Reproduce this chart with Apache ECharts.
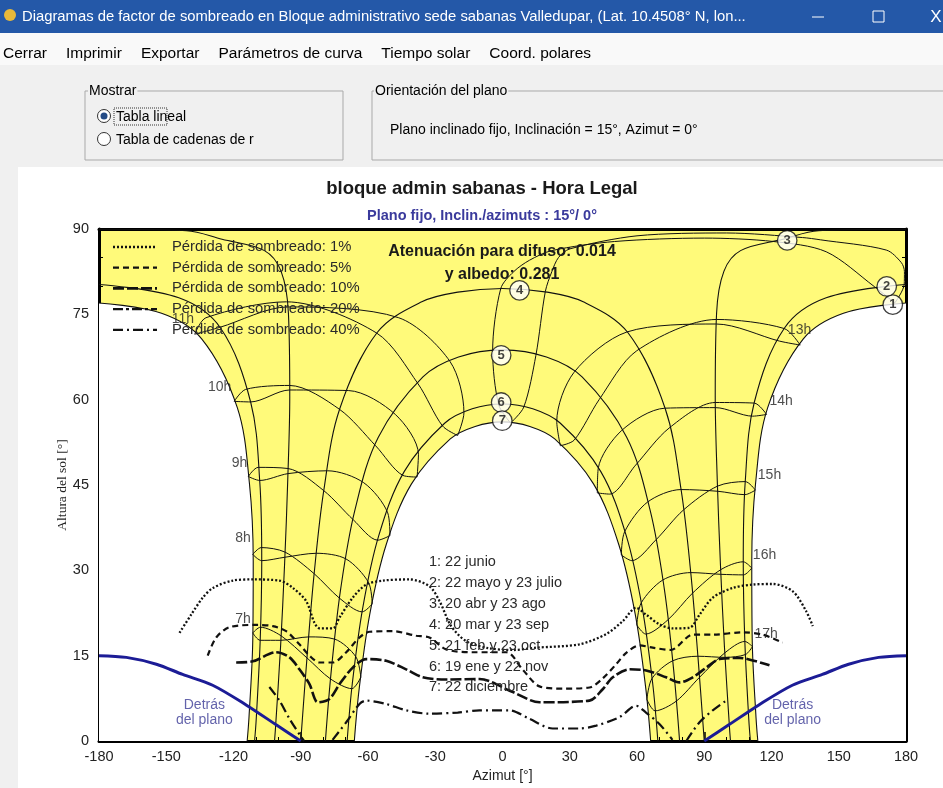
<!DOCTYPE html>
<html><head><meta charset="utf-8">
<script src="https://cdn.jsdelivr.net/npm/echarts/dist/echarts.min.js"></script>
<style>html,body{margin:0;padding:0;background:#f0f0f0;}#c{width:943px;height:788px;}</style>
</head><body><div id="c"></div>
<script>
// ---------- DATA (azimut [°], altura [°]) ----------
const xTickStep = 30, yTickStep = 15;
const curve1L = [[-180,77.0],[-152.1,75.2],[-134.2,70.7],[-118.3,58.6],[-112.9,45.3],[-111.2,31.6],[-111.4,17.8],[-113.1,4.1],[-113.9,0]];
const curve1R = [[113.9,0],[113.1,4.1],[111.4,17.8],[111.2,31.6],[112.9,45.3],[118.3,58.6],[134.2,70.7],[152.1,75.2],[180,77.0]];
const curve2L = [[-180,80.25],[-144.4,77.9],[-125.8,72.6],[-112.3,59.5],[-108.3,45.7],[-107.4,31.6],[-108.1,17.6],[-109.9,3.6],[-110.6,0]];
const curve2R = [[110.6,0],[109.9,3.6],[108.1,17.6],[107.4,31.6],[108.3,45.7],[112.3,59.5],[125.8,72.6],[144.4,77.9],[180,80.25]];
const curve3L = [[-180,89.95],[-141,89.7],[-125.1,88.2],[-106.2,86.2],[-98.8,82.6],[-95.5,75.2],[-94.9,60.6],[-95.8,45.9],[-97.2,31.2],[-99.0,16.6],[-101.3,2.1],[-101.7,0]];
const curve3R = [[101.7,0],[101.3,2.1],[99.0,16.6],[97.2,31.2],[95.8,45.9],[94.9,60.6],[95.5,75.2],[98.8,82.6],[106.2,86.2],[125.1,88.2],[141,89.7],[180,89.95]];
const curve4 = [[-90,0],[-87.2,14.75],[-84.0,29.5],[-79.7,44.1],[-72.6,58.4],[-55.9,71.8],[-36.0,77.2],[-19.9,78.9],[0,79.55],[19.9,78.9],[36.0,77.2],[55.9,71.8],[72.6,58.4],[79.7,44.1],[84.0,29.5],[87.2,14.75],[90,0]];
const curve5 = [[-79.0,0],[-76.35,12.5],[-72.2,26.7],[-65.9,40.5],[-55.4,53.4],[-35.5,64.0],[-19.6,67.5],[0,68.75],[19.6,67.5],[35.5,64.0],[55.4,53.4],[65.9,40.5],[72.2,26.7],[76.35,12.5],[79.0,0]];
const curve6 = [[-69.3,0],[-67.0,10.1],[-62.3,23.5],[-55.2,36.1],[-43.8,47.4],[-25.7,55.9],[-13.5,58.4],[0,59.25],[13.5,58.4],[25.7,55.9],[43.8,47.4],[55.2,36.1],[62.3,23.5],[67.0,10.1],[69.3,0]];
const curve7 = [[-66.1,0],[-63.9,9.3],[-59.2,22.3],[-51.9,34.5],[-40.6,45.2],[-23.3,53.1],[-12.2,55.3],[0,56.1],[12.2,55.3],[23.3,53.1],[40.6,45.2],[51.9,34.5],[59.2,22.3],[63.9,9.3],[66.1,0]];

const hourA = [
 [[-63.2,11.2],[-67.2,9.2],[-76.7,10.9],[-87.2,14.6],[-98.8,18.5],[-108.0,20.0],[-111.4,19.0]],
 [[-58.1,24.1],[-62.6,22.7],[-72.7,25.1],[-84.0,29.4],[-97.0,33.2],[-107.6,34.0],[-111.4,32.8]],
 [[-50.2,36.1],[-55.6,35.3],[-66.6,38.9],[-79.7,44.0],[-95.7,47.9],[-109.0,48.1],[-113.4,46.5]],
 [[-38.1,46.4],[-44.5,46.7],[-56.6,51.9],[-72.7,58.3],[-95.0,62.5],[-114.6,61.8],[-119.7,59.7]],
 [[-20.0,53.7],[-26.8,55.4],[-37.7,62.8],[-56.1,71.7],[-96.4,77.2],[-132.3,74.4],[-137.3,71.5]],
 [[3.6,55.9],[-1.7,59.1],[-4.4,68.5],[-0.8,79.5],[5,82.5],[12,84.5],[22,86.2],[50,87.8],[90,88.4],[120.9,87.8],[144.4,86.0],[165.8,79.9],[175.0,77.0]],
 [[25.8,51.9],[24.2,56.2],[31.9,64.8],[55.5,71.9],[95.4,73.3],[123.5,70.3],[132.8,69.6]],
 [[42.3,43.6],[42.7,47.9],[53.2,54.6],[72.4,58.5],[95.0,58.6],[111.6,57.1],[117.8,57.4]],
 [[53.0,32.7],[54.5,36.8],[64.7,42.0],[79.6,44.2],[96.0,43.9],[108.1,43.3],[112.8,44.1]],
 [[59.9,20.4],[61.9,24.3],[71.5,28.3],[84.0,29.6],[97.4,29.3],[107.5,29.2],[111.2,30.4]],
 [[64.4,7.3],[66.7,11.0],[75.9,14.1],[87.2,14.9],[99.3,14.7],[108.4,15.2],[111.5,16.6]]
];
const hourB = [
 [[-111.4,19.0],[-108.1,17.7],[-98.9,17.7],[-86.4,18.3],[-74.8,17.9],[-65.4,14.8],[-63.2,11.2]],
 [[-111.4,32.8],[-107.4,31.7],[-97.1,32.3],[-83.0,33.0],[-69.8,32.0],[-59.8,27.9],[-58.1,24.1]],
 [[-113.4,46.5],[-108.3,45.8],[-95.7,47.0],[-78.0,47.5],[-61.9,45.4],[-51.2,40.1],[-50.2,36.1]],
 [[-119.7,59.7],[-112.4,59.6],[-95.0,61.7],[-68.6,61.6],[-47.8,57.4],[-37.5,50.4],[-38.1,46.4]],
 [[-137.3,71.5],[-126.2,72.7],[-95.9,76.3],[-46.3,74.4],[-23.4,66.7],[-17.2,57.7],[-20.0,53.7]],
 [[175.0,77.0],[179.2,80.25],[179.3,82.5],[177.9,84.1],[171.2,86.3],[141.8,88.1],[133.8,88.5],[100,89.3],[60,88.8],[30,86.5],[25,85],[22,82.5],[19.1,79.0],[14.9,67.8],[9.5,58.7],[3.6,55.9]],
 [[132.8,69.6],[125.7,72.5],[95.5,74.1],[59.9,68.6],[43.1,60.0],[32.0,52.9],[25.8,51.9]],
 [[117.8,57.4],[112.3,59.4],[94.9,59.5],[74.3,55.0],[59.4,48.5],[47.8,43.4],[42.3,43.6]],
 [[112.8,44.1],[108.3,45.6],[95.9,44.8],[80.7,40.6],[68.3,35.3],[57.7,31.7],[53.0,32.7]],
 [[111.2,30.4],[107.4,31.5],[97.3,30.1],[84.8,26.0],[73.8,21.3],[63.9,18.8],[59.9,20.4]],
 [[111.5,16.6],[108.1,17.5],[99.2,15.5],[87.9,11.2],[77.5,7.0],[68.1,5.3],[64.4,7.3]]
];
const hourLabels = [['7h',-115.8,21.4],['8h',-115.8,35.6],['9h',-117.3,48.9],['10h',-126.2,62.2],['11h',-142.6,74.1],['13h',132.5,72.2],['14h',124.3,59.8],['15h',119.1,46.7],['16h',116.9,32.7],['17h',117.6,18.8]];
const dateMarks = [[174.1,76.7,'1'],[171.4,79.9,'2'],[127,88.0,'3'],[7.6,79.2,'4'],[-0.6,67.8,'5'],[-0.6,59.5,'6'],[-0.1,56.3,'7']];
const dateNames = ['1: 22 junio','2: 22 mayo y 23 julio','3: 20 abr y 23 ago','4: 20 mar y 23 sep','5: 21 feb y 23 oct','6: 19 ene y 22 nov','7: 22 diciembre'];

const loss1 = [[-144.1,19.0],[-138.9,22.2],[-133.7,25.2],[-129.2,26.9],[-120.3,28.2],[-111.4,28.4],[-99.5,28.2],[-93.5,26.9],[-87.6,24.6],[-83.9,20.8],[-81.6,19.8],[-75.7,19.8],[-72.7,21.7],[-66.8,25.2],[-60.8,27.5],[-53.4,28.2],[-41.5,28.4],[-32.6,27.2],[-28.1,24.6],[-22.9,20.2],[-16,17.5],[-6,16.3],[5,16.0],[15,16.4],[34.3,17.0],[46.3,18.8],[53.7,21.1],[59.6,23.4],[64.1,22.2],[70,20.5],[76,19.8],[83.4,19.9],[87.9,22.2],[93.8,25.2],[102.7,26.9],[111.7,27.5],[120.6,27.6],[129.5,26.3],[135.5,22.8],[138.4,20.2]];
const loss5 = [[-131.5,15.0],[-127.7,18.2],[-121.8,20.0],[-110,20.4],[-102.5,20.2],[-96.5,19.3],[-90.6,17.0],[-86.1,15.0],[-81.6,13.8],[-75.7,13.8],[-69.7,15.6],[-63.8,18.2],[-59.3,19.2],[-48.9,19.3],[-38.5,18.5],[-32.6,18.2],[-25.1,16.1],[-13.2,15.6],[1.7,15.6],[9.1,12.5],[16.5,9.6],[26.9,9.2],[38.8,9.4],[44.7,11],[50.7,13.5],[55.2,15.5],[61.1,16.8],[67,16.4],[75,16],[85,18.7],[94,18.7],[107,19.1],[116,18.7],[125,17.3]];
const loss10 = [[-118.8,13.8],[-111.4,14.0],[-101,15.6],[-95,14.7],[-90.6,12.6],[-86.1,10.0],[-82.4,6.8],[-77.2,7.4],[-72.7,10.0],[-66.8,12.9],[-60.8,14.4],[-51.9,14.1],[-43,12.6],[-35.6,11.2],[-25,10.8],[-10.3,10.9],[4.6,8.6],[16.5,6.8],[38.8,7.1],[44.7,9.1],[49.2,11.2],[56.7,12.6],[64.1,12.4],[73,11.2],[79,10.3],[84.9,11.2],[90.9,12.9],[96.8,14.4],[105.7,14.6],[113.2,14.0],[119.1,13.3]];
const loss40a = [[-104,9.5],[-99.5,7.1],[-95,3.9],[-89.8,0.7],[-88.5,0]];
const loss40b = [[-75.8,0.2],[-69.7,3.3],[-63.8,6.5],[-60.8,7.1],[-51.9,6.5],[-43,5.4],[-32.6,4.8],[-20,5.0],[-10.3,5.4],[3.1,5.4],[12,3.9],[22.4,2.2],[34.3,2.2],[41.8,2.7],[52.2,4.2],[59.6,6.2],[64,5.0],[70,3.0],[75.8,0.2]];
const loss40c = [[82,0],[87.9,3.3],[93.8,5.4],[99.8,7.1]];
const behindL = [[-180,15.0],[-167.8,14.7],[-154.4,13.5],[-142.7,11.7],[-129.3,9.8],[-114.2,6.3],[-100.8,2.8],[-90,0]];
const behindR = [[90,0],[100.8,2.8],[114.2,6.3],[129.3,9.8],[142.7,11.7],[154.4,13.5],[167.8,14.7],[180,15.0]];
const behindLabels = [[-133,4.9,'Detrás\ndel plano'],[129.4,4.9,'Detrás\ndel plano']];
const lossNames = ['Pérdida de sombreado: 1%','Pérdida de sombreado: 5%','Pérdida de sombreado: 10%','Pérdida de sombreado: 20%','Pérdida de sombreado: 40%'];

// ---------- STYLE ----------
const F = 'Arial, "Liberation Sans", sans-serif';
const UI = '"Liberation Sans", Arial, sans-serif';
const lossDash = [[2,2],[6,4],[11,3],[10,3,3,3],[10,4,2,4]];
const lossWidth = [2.3,2.2,2.6,2.2,2.2];

function ln(data, ls, extra) {
  return Object.assign({type:'line', data, smooth:0.35, symbol:'none', silent:true,
    lineStyle:Object.assign({color:'#111', width:1}, ls)}, extra || {});
}
const series = [];
series.push(ln(curve1L, {width:1.1}, {areaStyle:{color:'#ffffff', opacity:1}, z:2}));
series.push(ln(curve1R, {width:1.1}, {areaStyle:{color:'#ffffff', opacity:1}, z:2}));
series.push(ln(curve7, {width:1.1}, {areaStyle:{color:'#ffffff', opacity:1}, z:2}));
[curve2L, curve2R, curve3L, curve3R, curve4, curve5, curve6].forEach(c => series.push(ln(c, {width:1.1}, {z:3})));
hourA.forEach(h => series.push(ln(h, {width:1}, {z:3, smooth:0.3})));
hourB.forEach(h => series.push(ln(h, {width:1}, {z:3, smooth:0.3})));
series.push(ln(loss1, {type:lossDash[0], width:lossWidth[0]}, {z:4, smooth:0.3}));
series.push(ln(loss5, {type:lossDash[1], width:lossWidth[1]}, {z:4, smooth:0.3}));
series.push(ln(loss10, {type:lossDash[2], width:lossWidth[2]}, {z:4, smooth:0.3}));
[loss40a, loss40b, loss40c].forEach(d => series.push(ln(d, {type:lossDash[4], width:lossWidth[4]}, {z:4, smooth:0.3})));
series.push(ln(behindL, {color:'#1c1c96', width:3}, {z:5, smooth:0.3}));
series.push(ln(behindR, {color:'#1c1c96', width:3}, {z:5, smooth:0.3}));
series.push({type:'scatter', data:hourLabels.map(d => [d[1], d[2], d[0]]), symbolSize:1, silent:true, z:6,
  itemStyle:{color:'rgba(0,0,0,0)'},
  label:{show:true, position:'inside', formatter:p => p.value[2], color:'#222', fontSize:14, fontFamily:F}});
series.push({type:'scatter', data:behindLabels, symbolSize:1, silent:true, z:6,
  itemStyle:{color:'rgba(0,0,0,0)'},
  label:{show:true, position:'inside', formatter:p => p.value[2], color:'#3c3c96', fontSize:14, lineHeight:15, fontFamily:F, align:'center'}});
series.push({type:'scatter', data:dateMarks, symbol:'circle', symbolSize:19.5, silent:true, z:8, clip:false,
  itemStyle:{color:'#ffffff', borderColor:'#111', borderWidth:1.3},
  label:{show:true, position:'inside', formatter:p => p.value[2], color:'#111', fontSize:13, fontWeight:'bold', fontFamily:F}});

// ---------- GRAPHICS (window chrome, titles, legends) ----------
const G = [];
G.push({type:'rect', shape:{x:18, y:167, width:925, height:621}, style:{fill:'#ffffff'}, z:-10});
G.push({type:'rect', shape:{x:0, y:0, width:943, height:33}, style:{fill:'#2458a8'}, z:50});
G.push({type:'circle', shape:{cx:10, cy:15, r:6}, style:{fill:'#e8b93a'}, z:51});
G.push({type:'text', x:22, y:17, style:{text:'Diagramas de factor de sombreado en Bloque administrativo sede sabanas Valledupar, (Lat. 10.4508° N, lon...', fill:'#ffffff', font:'14.8px ' + UI, verticalAlign:'middle'}, z:51});
G.push({type:'line', shape:{x1:812, y1:17, x2:824, y2:17}, style:{stroke:'#ffffff', lineWidth:1}, z:51});
G.push({type:'rect', shape:{x:873, y:11, width:11, height:11}, style:{fill:'none', stroke:'#ffffff', lineWidth:1}, z:51});
G.push({type:'text', x:936, y:17, style:{text:'X', fill:'#ffffff', font:'17px ' + UI, align:'center', verticalAlign:'middle'}, z:51});
G.push({type:'rect', shape:{x:0, y:33, width:943, height:32}, style:{fill:'#f9f9f9'}, z:-9});
const menu = ['Cerrar','Imprimir','Exportar','Parámetros de curva','Tiempo solar','Coord. polares'];
(function(){
  const cv = document.createElement('canvas').getContext('2d');
  cv.font = '15.5px ' + UI;
  let x = 3;
  menu.forEach(m => {
    G.push({type:'text', x:x, y:54, style:{text:m, fill:'#000', font:'15.5px ' + UI, verticalAlign:'middle'}, z:51});
    x += cv.measureText(m).width + 19;
  });
})();
G.push({type:'rect', shape:{x:85, y:91, width:258, height:69}, style:{fill:'none', stroke:'#a9a9a9', lineWidth:1}, z:40});
G.push({type:'text', x:88, y:91, style:{text:'Mostrar', fill:'#000', font:'14px ' + UI, verticalAlign:'middle', backgroundColor:'#f0f0f0', padding:[0,1]}, z:41});
G.push({type:'circle', shape:{cx:104, cy:116, r:6.5}, style:{fill:'#fff', stroke:'#333', lineWidth:1}, z:41});
G.push({type:'circle', shape:{cx:104, cy:116, r:3.5}, style:{fill:'#234b86'}, z:42});
G.push({type:'rect', shape:{x:114, y:108, width:53, height:17}, style:{fill:'none', stroke:'#333', lineWidth:1, lineDash:[1,1]}, z:41});
G.push({type:'text', x:116, y:117, style:{text:'Tabla lineal', fill:'#000', font:'14px ' + UI, verticalAlign:'middle'}, z:41});
G.push({type:'circle', shape:{cx:104, cy:139, r:6.5}, style:{fill:'#fff', stroke:'#333', lineWidth:1}, z:41});
G.push({type:'text', x:116, y:140, style:{text:'Tabla de cadenas de r', fill:'#000', font:'14px ' + UI, verticalAlign:'middle'}, z:41});
G.push({type:'rect', shape:{x:372, y:91, width:600, height:69}, style:{fill:'none', stroke:'#a9a9a9', lineWidth:1}, z:40});
G.push({type:'text', x:374, y:91, style:{text:'Orientación del plano', fill:'#000', font:'14px ' + UI, verticalAlign:'middle', backgroundColor:'#f0f0f0', padding:[0,1]}, z:41});
G.push({type:'text', x:390, y:130, style:{text:'Plano inclinado fijo, Inclinación = 15°, Azimut = 0°', fill:'#000', font:'14px ' + UI, verticalAlign:'middle'}, z:41});
G.push({type:'text', x:482, y:189, style:{text:'bloque admin sabanas - Hora Legal', fill:'#1a1a1a', font:'bold 18.5px ' + F, align:'center', verticalAlign:'middle'}, z:60});
G.push({type:'text', x:482, y:216, style:{text:'Plano fijo, Inclin./azimuts : 15°/ 0°', fill:'#3a3a9c', font:'bold 14.5px ' + F, align:'center', verticalAlign:'middle'}, z:60});
G.push({type:'text', x:502, y:252, style:{text:'Atenuación para difuso: 0.014', fill:'#1a1a1a', font:'bold 16px ' + F, align:'center', verticalAlign:'middle'}, z:60});
G.push({type:'text', x:502, y:275, style:{text:'y albedo: 0.281', fill:'#1a1a1a', font:'bold 16px ' + F, align:'center', verticalAlign:'middle'}, z:60});
lossNames.forEach((t, i) => {
  const y = 247 + i * 20.7;
  G.push({type:'line', shape:{x1:113, y1:y, x2:157, y2:y}, style:{stroke:'#111', lineWidth:lossWidth[i], lineDash:lossDash[i]}, z:60});
  G.push({type:'text', x:172, y:y, style:{text:t, fill:'#2a2a2a', font:'14.8px ' + F, verticalAlign:'middle'}, z:60});
});
dateNames.forEach((t, i) => {
  G.push({type:'text', x:429, y:562 + i * 20.9, style:{text:t, fill:'#2a2a2a', font:'14.5px ' + F, verticalAlign:'middle'}, z:60});
});

const axisCommon = {type:'value', splitLine:{show:false}, axisLine:{show:true, onZero:false, lineStyle:{color:'#000', width:3}}};
const option = {
  animation:false,
  backgroundColor:'#f0f0f0',
  grid:{left:99, right:37, top:229, bottom:44, show:true, backgroundColor:'#fffa7a', borderWidth:0},
  xAxis:[
    Object.assign({}, axisCommon, {min:-180, max:180, interval:xTickStep, position:'bottom',
      axisTick:{show:true, inside:true, length:9, lineStyle:{color:'#000', width:1.5}},
      minorTick:{show:true, splitNumber:3, length:4, lineStyle:{color:'#000', width:1}},
      axisLabel:{color:'#222', fontSize:14.5, fontFamily:F, margin:8},
      name:'Azimut [°]', nameLocation:'middle', nameGap:28, nameMoveOverlap:false, nameTextStyle:{color:'#222', fontSize:14, fontFamily:F}}),
    Object.assign({}, axisCommon, {min:-180, max:180, interval:xTickStep, position:'top', axisTick:{show:false}, axisLabel:{show:false}})
  ],
  yAxis:[
    Object.assign({}, axisCommon, {min:0, max:90, interval:yTickStep, position:'left',
      axisTick:{show:true, inside:true, length:9, lineStyle:{color:'#000', width:1.5}},
      minorTick:{show:true, splitNumber:3, length:4, lineStyle:{color:'#000', width:1}},
      axisLabel:{color:'#222', fontSize:14.5, fontFamily:F, margin:10},
      name:'Altura del sol [°]', nameLocation:'middle', nameGap:30, nameMoveOverlap:false, nameTextStyle:{color:'#222', fontSize:13.5, fontFamily:'"Liberation Serif", "Times New Roman", serif'}}),
    Object.assign({}, axisCommon, {min:0, max:90, interval:yTickStep, position:'right',
      axisTick:{show:true, inside:true, length:9, lineStyle:{color:'#000', width:1.5}},
      minorTick:{show:true, splitNumber:3, length:4, lineStyle:{color:'#000', width:1}},
      axisLabel:{show:false}})
  ],
  graphic:G,
  series:series
};
const chart = echarts.init(document.getElementById('c'));
chart.setOption(option);
</script></body></html>
